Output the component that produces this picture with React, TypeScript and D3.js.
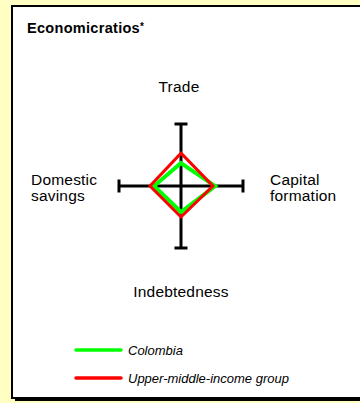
import React from 'react';
import * as d3 from 'd3';

// axes of the development diamond, clockwise from the top
const axisNames = ['Trade', 'Capital formation', 'Indebtedness', 'Domestic savings'];
// values relative to the scale (group average ~ 1)
const colombiaValues = [0.74, 1.1, 0.84, 0.87];
const upperMiddleValues = [1.06, 1.03, 1.0, 1.0];
const seriesNames = ['Colombia', 'Upper-middle-income group'];
const seriesColors = ['#00ff00', '#ff0000'];

const W = 360;
const H = 403;
const cx = 181;
const cy = 186;
const axisLen = 62;

const App = () => {
  const r = d3.scaleLinear().domain([0, 2]).range([0, axisLen]);
  // angle for each axis: top, right, bottom, left
  const angles = axisNames.map((_, i) => (i * Math.PI) / 2);
  const pt = (v: number, i: number): [number, number] => [
    cx + Math.sin(angles[i]) * r(v),
    cy - Math.cos(angles[i]) * r(v),
  ];
  const diamond = d3.line().curve(d3.curveLinearClosed);

  const font = 'Arial, "Liberation Sans", sans-serif';
  const cap = 6.5;

  return (
    <svg
      width={W}
      height={H}
      style={{ position: 'absolute', left: 0, top: 0, display: 'block' }}
      fontFamily={font}
    >
      <rect x={0} y={0} width={W} height={H} fill="#ffffc4" />
      {/* panel with drop shadow */}
      <rect x={15} y={9} width={380} height={392} fill="#000" />
      <rect x={12} y={6} width={380} height={392} fill="#fff" stroke="#000" strokeWidth={2} />

      <text x={27} y={33} fontSize={14.5} fontWeight="bold" letterSpacing={0.3} fill="#000">
        Economicratios<tspan fontSize={10} dy={-3}>*</tspan>
      </text>

      {/* axes with end caps */}
      <g stroke="#000" strokeWidth={3}>
        <line x1={cx} y1={cy - axisLen} x2={cx} y2={cy + axisLen} />
        <line x1={cx - axisLen} y1={cy} x2={cx + axisLen} y2={cy} />
        <line x1={cx - cap} y1={cy - axisLen} x2={cx + cap} y2={cy - axisLen} />
        <line x1={cx - cap} y1={cy + axisLen} x2={cx + cap} y2={cy + axisLen} />
        <line x1={cx - axisLen} y1={cy - cap} x2={cx - axisLen} y2={cy + cap} />
        <line x1={cx + axisLen} y1={cy - cap} x2={cx + axisLen} y2={cy + cap} />
      </g>

      <path
        d={diamond(colombiaValues.map(pt)) || ''}
        fill="none"
        stroke={seriesColors[0]}
        strokeWidth={4}
        strokeLinejoin="miter"
      />
      <path
        d={diamond(upperMiddleValues.map(pt)) || ''}
        fill="none"
        stroke={seriesColors[1]}
        strokeWidth={3}
        strokeLinejoin="miter"
      />

      {/* axis labels */}
      <g fontSize={15.5} letterSpacing={0.2} fill="#000">
        <text x={cx - 2} y={92} textAnchor="middle">{axisNames[0]}</text>
        <text x={270} y={185}>
          <tspan x={270}>Capital</tspan>
          <tspan x={270} dy={16}>formation</tspan>
        </text>
        <text x={cx} y={297} textAnchor="middle">{axisNames[2]}</text>
        <text x={31} y={185}>
          <tspan x={31}>Domestic</tspan>
          <tspan x={31} dy={16}>savings</tspan>
        </text>
      </g>

      {/* legend */}
      {seriesNames.map((s, i) => (
        <g key={s} transform={`translate(0, ${350 + i * 28})`}>
          <line x1={76} x2={121} y1={0} y2={0} stroke={seriesColors[i]} strokeWidth={3.5} strokeLinecap="round" />
          <text x={128} y={4.5} fontSize={13} fontStyle="italic" fill="#000">{s}</text>
        </g>
      ))}
    </svg>
  );
};

export default App;
